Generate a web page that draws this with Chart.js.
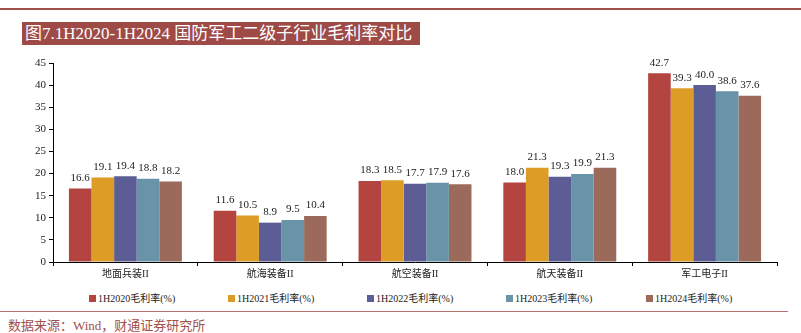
<!DOCTYPE html>
<html lang="zh">
<head>
<meta charset="utf-8">
<title>国防军工二级子行业毛利率对比</title>
<script src="https://cdn.jsdelivr.net/npm/chart.js"></script>
<style>
  body { margin: 0; padding: 0; background: #fff; width: 801px; height: 333px; overflow: hidden; position: relative;
         font-family: "Liberation Serif", "Noto Sans CJK SC", serif; }
  .topline { position: absolute; left: 0; top: 8px; width: 801px; height: 2px; background: #a14f4a; }
  .title { position: absolute; left: 22px; top: 22px; width: 398px; height: 23px; background: #9e4a47;
           color: #fff; font-size: 17px; line-height: 23px; padding-left: 3px; box-sizing: border-box; white-space: nowrap; }
  .chart-box { position: absolute; left: 0; top: 50px; width: 801px; height: 235px; }
  .legend { position: absolute; top: 292px; left: 0; width: 801px; height: 14px; font-size: 10px; color: #222; }
  .legend span { position: absolute; white-space: nowrap; line-height: 14px; }
  .legend i { display: inline-block; width: 7px; height: 7px; margin-right: 2px; vertical-align: 0px; }
  .bottomline { position: absolute; left: 0; top: 311px; width: 788px; height: 1px; background: #b5736e; }
  .source { position: absolute; left: 8px; top: 315px; font-size: 13px; color: #a14f4a; white-space: nowrap; }
</style>
</head>
<body>
<div class="topline"></div>
<div class="title">图7.1H2020-1H2024 国防军工二级子行业毛利率对比</div>
<div class="chart-box"><canvas id="marginChart"></canvas></div>
<div class="legend" id="legend"></div>
<div class="bottomline"></div>
<div class="source">数据来源：Wind，财通证券研究所</div>

<script>
  // categories and series (gross margin, %)
  const categories = ['地面兵装II', '航海装备II', '航空装备II', '航天装备II', '军工电子II'];
  const seriesNames = ['1H2020毛利率(%)', '1H2021毛利率(%)', '1H2022毛利率(%)', '1H2023毛利率(%)', '1H2024毛利率(%)'];
  const h2020 = [16.6, 11.6, 18.3, 18.0, 42.7];
  const h2021 = [19.1, 10.5, 18.5, 21.3, 39.3];
  const h2022 = [19.4, 8.9, 17.7, 19.3, 40.0];
  const h2023 = [18.8, 9.5, 17.9, 19.9, 38.6];
  const h2024 = [18.2, 10.4, 17.6, 21.3, 37.6];
  const yTicks = [0, 5, 10, 15, 20, 25, 30, 35, 40, 45];

  const colors = ['#b3443f', '#dc9c25', '#5b5d94', '#6893a9', '#9b6a5b'];
  const allSeries = [h2020, h2021, h2022, h2023, h2024];

  const FONT = '"Liberation Serif", "Noto Sans CJK SC", serif';

  // value labels above bars
  const valueLabels = {
    id: 'valueLabels',
    afterDatasetsDraw(chart) {
      const ctx = chart.ctx;
      ctx.save();
      ctx.font = '11px ' + FONT;
      ctx.fillStyle = '#222';
      ctx.textAlign = 'center';
      ctx.textBaseline = 'bottom';
      chart.data.datasets.forEach((ds, i) => {
        chart.getDatasetMeta(i).data.forEach((bar, j) => {
          ctx.fillText(ds.data[j].toFixed(1), bar.x, bar.y - 5);
        });
      });
      ctx.restore();
    }
  };

  const ctx = document.getElementById('marginChart').getContext('2d');
  const chart = new Chart(ctx, {
    type: 'bar',
    data: {
      labels: categories,
      datasets: allSeries.map((d, i) => ({
        label: seriesNames[i],
        data: d,
        backgroundColor: colors[i],
        borderWidth: 0,
        categoryPercentage: 0.78,
        barPercentage: 1.0
      }))
    },
    options: {
      responsive: true,
      maintainAspectRatio: false,
      animation: false,
      layout: { padding: { top: 13, right: 24, left: 0, bottom: 0 } },
      plugins: {
        legend: { display: false },
        tooltip: { enabled: false }
      },
      scales: {
        x: {
          offset: true,
          grid: { display: true, offset: true, drawOnChartArea: false, drawTicks: true, tickLength: 4, color: '#000' },
          border: { display: true, color: '#000', width: 1 },
          ticks: { font: { family: FONT, size: 10 }, color: '#222', padding: 2, maxRotation: 0 },
          afterFit: s => { s.height = 23; }
        },
        y: {
          min: 0,
          max: 45,
          afterBuildTicks: s => { s.ticks = yTicks.map(v => ({ value: v })); },
          grid: { display: true, drawOnChartArea: false, drawTicks: true, tickLength: 4, color: '#000' },
          border: { display: true, color: '#000', width: 1 },
          ticks: { font: { family: FONT, size: 11 }, color: '#222', padding: 3 },
          afterFit: s => { s.width = 53; }
        }
      }
    },
    plugins: [valueLabels]
  });

  // legend row
  const legendX = [89, 228, 367, 506, 646];
  const legend = document.getElementById('legend');
  seriesNames.forEach((name, i) => {
    const item = document.createElement('span');
    item.style.left = legendX[i] + 'px';
    item.innerHTML = '<i style="background:' + colors[i] + '"></i>' + name;
    legend.appendChild(item);
  });
</script>
</body>
</html>
